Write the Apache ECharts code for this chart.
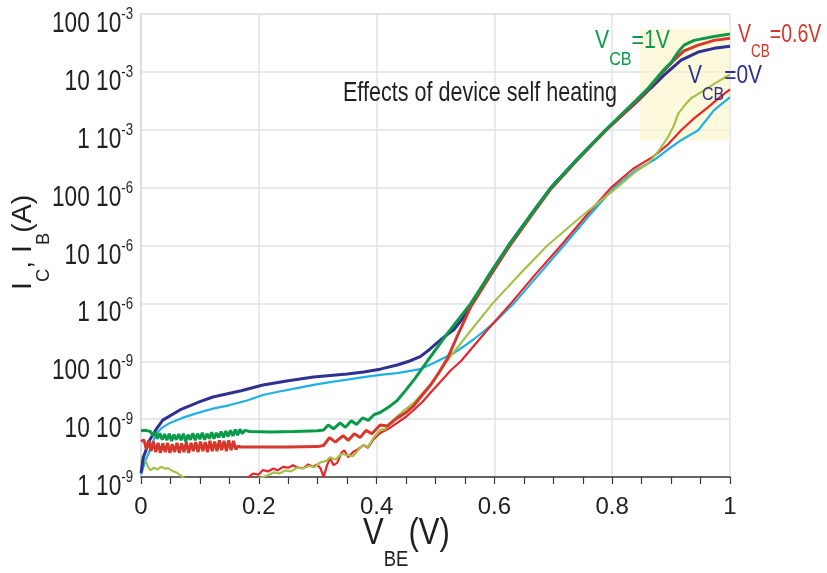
<!DOCTYPE html>
<html>
<head>
<meta charset="utf-8">
<script src="https://cdn.jsdelivr.net/npm/echarts@6/dist/echarts.min.js"></script>
<style>
  html, body { margin: 0; padding: 0; background: #fff; }
  #main { width: 827px; height: 573px; }
</style>
</head>
<body>
<div id="main"></div>
<script>
// x = V_BE (V), y = current (A), log scale
const yTicks = [1e-9, 1e-8, 1e-7, 1e-6, 1e-5, 1e-4, 1e-3, 1e-2, 1e-1];

// I_C, V_CB = 1V (green)
const icVcb1 = [
  [0, 6.3e-9], [0.008, 6.4e-9], [0.016, 6.1e-9], [0.02, 5.2e-9], [0.024, 5.9e-9], [0.028, 4.6e-9],
  [0.032, 5.7e-9], [0.036, 4.4e-9], [0.04, 5.5e-9], [0.044, 4.3e-9], [0.048, 5.6e-9], [0.052, 4.2e-9],
  [0.056, 5.4e-9], [0.06, 4.4e-9], [0.064, 5.5e-9], [0.068, 4.3e-9], [0.072, 5.6e-9], [0.076, 4.1e-9],
  [0.08, 5.4e-9], [0.084, 4.4e-9], [0.088, 5.7e-9], [0.092, 4.3e-9], [0.096, 5.6e-9], [0.1, 4.5e-9],
  [0.104, 5.8e-9], [0.108, 4.4e-9], [0.112, 5.6e-9], [0.116, 4.6e-9], [0.12, 5.9e-9], [0.124, 4.6e-9],
  [0.128, 5.8e-9], [0.132, 4.8e-9], [0.136, 6.1e-9], [0.14, 4.8e-9], [0.144, 6.2e-9], [0.148, 5.0e-9],
  [0.152, 6.4e-9], [0.156, 5.1e-9], [0.16, 6.6e-9], [0.164, 5.3e-9], [0.168, 6.7e-9], [0.172, 5.6e-9],
  [0.176, 6.4e-9], [0.185, 6.1e-9], [0.22, 6.0e-9], [0.26, 6.1e-9], [0.3, 6.3e-9], [0.31, 6.5e-9],
  [0.318, 7.9e-9], [0.327, 6.8e-9], [0.338, 8.6e-9], [0.347, 7.2e-9], [0.357, 9.4e-9], [0.366, 8.1e-9],
  [0.376, 1.05e-8], [0.386, 9.5e-9], [0.396, 1.2e-8], [0.406, 1.3e-8], [0.42, 1.6e-8], [0.435, 2.1e-8],
  [0.45, 3.2e-8], [0.465, 5.0e-8], [0.486, 1e-7], [0.52, 3.0e-7], [0.56, 1e-6], [0.592, 3.2e-6],
  [0.624, 1e-5], [0.66, 3.2e-5], [0.696, 1e-4], [0.742, 3.2e-4], [0.789, 1e-3], [0.84, 3.2e-3],
  [0.861, 5.2e-3], [0.888, 1.1e-2], [0.9, 1.45e-2], [0.912, 2.2e-2], [0.922, 2.9e-2], [0.939, 3.5e-2],
  [0.973, 4.1e-2], [1, 4.5e-2]
];

// I_C, V_CB = 0.6V (red)
const icVcb06 = [
  [0, 4.1e-9], [0.005, 4.4e-9], [0.009, 3.0e-9], [0.013, 4.3e-9], [0.017, 2.8e-9], [0.021, 4.1e-9],
  [0.025, 2.7e-9], [0.029, 3.9e-9], [0.033, 2.6e-9], [0.037, 3.8e-9], [0.041, 2.7e-9], [0.045, 3.9e-9],
  [0.049, 2.6e-9], [0.053, 3.7e-9], [0.057, 2.7e-9], [0.061, 3.9e-9], [0.065, 2.6e-9], [0.069, 3.8e-9],
  [0.073, 2.7e-9], [0.077, 4.0e-9], [0.081, 2.6e-9], [0.085, 3.9e-9], [0.089, 2.8e-9], [0.093, 4.0e-9],
  [0.097, 2.7e-9], [0.101, 4.1e-9], [0.105, 2.8e-9], [0.109, 4.0e-9], [0.113, 2.7e-9], [0.117, 4.2e-9],
  [0.121, 2.8e-9], [0.125, 4.1e-9], [0.129, 2.8e-9], [0.133, 4.3e-9], [0.137, 2.9e-9], [0.141, 4.2e-9],
  [0.145, 2.8e-9], [0.149, 4.3e-9], [0.153, 2.9e-9], [0.157, 4.2e-9], [0.161, 3.0e-9], [0.165, 3.4e-9],
  [0.17, 3.3e-9], [0.2, 3.3e-9], [0.25, 3.3e-9], [0.3, 3.35e-9], [0.31, 3.5e-9], [0.32, 4.8e-9],
  [0.33, 4.0e-9], [0.343, 5.2e-9], [0.352, 4.3e-9], [0.362, 5.6e-9], [0.372, 4.8e-9], [0.382, 6.4e-9],
  [0.392, 5.6e-9], [0.406, 7.9e-9], [0.418, 7.6e-9], [0.435, 1.04e-8], [0.45, 1.3e-8], [0.463, 1.7e-8],
  [0.48, 2.8e-8], [0.491, 3.8e-8], [0.505, 6.2e-8], [0.52, 1.1e-7], [0.54, 3.2e-7], [0.56, 8.8e-7],
  [0.592, 2.9e-6], [0.624, 9.2e-6], [0.66, 3.0e-5], [0.696, 9.5e-5], [0.742, 3.1e-4], [0.789, 9.6e-4],
  [0.84, 3.0e-3], [0.861, 5.0e-3], [0.888, 1.05e-2], [0.905, 1.6e-2], [0.922, 2.3e-2], [0.946, 2.9e-2],
  [0.973, 3.5e-2], [1, 3.8e-2]
];

// I_C, V_CB = 0V (navy)
const icVcb0 = [
  [0, 1.17e-9], [0.004, 2.2e-9], [0.015, 4.4e-9], [0.025, 6.5e-9], [0.037, 9.6e-9], [0.066, 1.44e-8],
  [0.1, 2.0e-8], [0.122, 2.41e-8], [0.17, 3.1e-8], [0.207, 3.88e-8], [0.25, 4.6e-8], [0.293, 5.33e-8],
  [0.35, 6.0e-8], [0.378, 6.5e-8], [0.406, 7.3e-8], [0.435, 8.6e-8], [0.455, 1.0e-7], [0.474, 1.2e-7],
  [0.49, 1.6e-7], [0.503, 2.1e-7], [0.52, 2.9e-7], [0.531, 3.5e-7], [0.545, 5.3e-7], [0.554, 7.2e-7],
  [0.565, 1.1e-6], [0.592, 3.2e-6], [0.624, 1e-5], [0.66, 3.2e-5], [0.696, 1e-4], [0.742, 3.2e-4],
  [0.789, 9.8e-4], [0.84, 2.9e-3], [0.865, 5.2e-3], [0.888, 8.8e-3], [0.917, 1.6e-2], [0.946, 2.2e-2],
  [0.973, 2.55e-2], [1, 2.78e-2]
];

// I_B, V_CB = 1V (olive)
const ibVcb1 = [
  [0, 1.75e-9], [0.003, 2.3e-9], [0.008, 1.9e-9], [0.012, 1.5e-9], [0.016, 1.3e-9], [0.022, 1.45e-9],
  [0.028, 1.35e-9], [0.034, 1.5e-9], [0.04, 1.4e-9], [0.046, 1.42e-9], [0.052, 1.3e-9], [0.06, 1.2e-9],
  [0.068, 1.05e-9], [0.076, 0.9e-9], null,
  [0.195, 0.9e-9], [0.216, 1.08e-9], [0.225, 1.2e-9], [0.235, 1.15e-9], [0.245, 1.3e-9], [0.255, 1.25e-9],
  [0.265, 1.45e-9], [0.275, 1.4e-9], [0.285, 1.55e-9], [0.295, 1.5e-9], [0.305, 1.8e-9], [0.315, 1.9e-9],
  [0.321, 2.2e-9], [0.33, 2.0e-9], [0.34, 2.5e-9], [0.35, 2.4e-9], [0.36, 2.3e-9], [0.37, 3.0e-9],
  [0.378, 3.6e-9], [0.385, 3.3e-9], [0.395, 4.8e-9], [0.406, 6.5e-9], [0.415, 6.8e-9], [0.425, 9.0e-9],
  [0.435, 1.12e-8], [0.45, 1.5e-8], [0.463, 1.9e-8], [0.478, 2.8e-8], [0.491, 3.9e-8], [0.505, 6.0e-8],
  [0.519, 1e-7], [0.558, 3.2e-7], [0.597, 1e-6], [0.643, 3.2e-6], [0.69, 1e-5], [0.748, 3.2e-5],
  [0.808, 1e-4], [0.84, 1.9e-4], [0.861, 2.6e-4], [0.88, 4.5e-4], [0.895, 7.5e-4], [0.905, 1.2e-3],
  [0.912, 1.9e-3], [0.925, 2.8e-3], [0.934, 3.5e-3], [0.956, 4.8e-3], [0.975, 6.4e-3], [1, 9.0e-3]
];

// I_B, V_CB = 0.6V (red)
const ibVcb06 = [
  [0.17, 0.85e-9], [0.18, 0.95e-9], [0.19, 1.15e-9], [0.2, 1.1e-9], [0.207, 1.32e-9], [0.215, 1.25e-9],
  [0.225, 1.4e-9], [0.232, 1.3e-9], [0.241, 1.5e-9], [0.25, 1.45e-9], [0.258, 1.6e-9], [0.266, 1.45e-9],
  [0.276, 1.43e-9], [0.284, 1.65e-9], [0.292, 1.5e-9], [0.299, 1.65e-9], [0.305, 1.4e-9], [0.31, 1.0e-9],
  [0.316, 1.6e-9], [0.321, 2.1e-9], [0.327, 1.6e-9], [0.333, 1.75e-9], [0.34, 2.6e-9], [0.345, 2.9e-9],
  [0.352, 2.2e-9], [0.36, 2.7e-9], [0.368, 3.0e-9], [0.378, 3.6e-9], [0.385, 3.2e-9], [0.395, 4.5e-9],
  [0.406, 5.75e-9], [0.42, 6.8e-9], [0.435, 8.6e-9], [0.45, 1.1e-8], [0.463, 1.44e-8], [0.478, 2.0e-8],
  [0.491, 2.82e-8], [0.51, 4.6e-8], [0.526, 7.0e-8], [0.543, 1e-7], [0.585, 3.2e-7], [0.628, 1e-6],
  [0.67, 3.2e-6], [0.713, 1e-5], [0.755, 3.2e-5], [0.798, 1e-4], [0.835, 2.1e-4], [0.869, 3.4e-4],
  [0.895, 5.6e-4], [0.917, 9.8e-4], [0.94, 1.6e-3], [0.963, 2.46e-3], [0.985, 3.8e-3], [1, 5.0e-3]
];

// I_B, V_CB = 0V (cyan)
const ibVcb0 = [
  [0, 1.1e-9], [0.005, 1.6e-9], [0.01, 2.2e-9], [0.015, 2.9e-9], [0.02, 4.0e-9], [0.027, 5.75e-9],
  [0.035, 7.0e-9], [0.049, 8.6e-9], [0.07, 1.05e-8], [0.095, 1.27e-8], [0.12, 1.5e-8], [0.151, 1.75e-8],
  [0.18, 2.1e-8], [0.207, 2.61e-8], [0.235, 3.0e-8], [0.265, 3.44e-8], [0.293, 3.9e-8], [0.321, 4.37e-8],
  [0.35, 4.8e-8], [0.378, 5.33e-8], [0.406, 5.8e-8], [0.435, 6.25e-8], [0.474, 7.3e-8], [0.497, 9.3e-8],
  [0.515, 1.15e-7], [0.531, 1.39e-7], [0.548, 1.8e-7], [0.565, 2.4e-7], [0.582, 3.3e-7], [0.599, 4.6e-7],
  [0.633, 1e-6], [0.676, 3.2e-6], [0.718, 1e-5], [0.76, 3.2e-5], [0.803, 1e-4], [0.84, 2.0e-4],
  [0.871, 3.0e-4], [0.895, 4.6e-4], [0.917, 6.6e-4], [0.946, 9.8e-4], [0.973, 2.18e-3], [1, 3.66e-3]
];

// shaded "self heating" region: [V from, I top], [V to, I bottom]
const heatBox = [[0.847, 0.055], [1, 6.5e-4]];

const FONT = "'Liberation Sans', Arial, sans-serif";
const TXT = '#231f20';

var chart = echarts.init(document.getElementById('main'), null, { renderer: 'canvas' });

function line(data, color, width) {
  return {
    type: 'line',
    data: data,
    symbol: 'none',
    clip: true,
    z: 2,
    lineStyle: { color: color, width: width },
    animation: false
  };
}

// big text with lowered small part; lh = line height that sets the drop
function subRich(color, big, small, lh) {
  return {
    v: { fontFamily: FONT, fontSize: big, lineHeight: big, verticalAlign: 'top', fill: color },
    s: { fontFamily: FONT, fontSize: small, lineHeight: lh, verticalAlign: 'bottom', fill: color }
  };
}

// y tick labels like "100 10^-3", narrow like the original
function yLabel(params, api) {
  const v = api.value(1);
  const p = api.coord([0, v]);
  const e = Math.round(Math.log10(v));
  const g = Math.floor(e / 3) * 3;
  return {
    type: 'text',
    x: p[0] - 8,
    y: p[1] - 8,
    scaleX: 0.78,
    style: {
      text: '{m|' + Math.round(Math.pow(10, e - g)) + ' 10}{e|' + g + '}',
      align: 'right',
      verticalAlign: 'top',
      rich: {
        m: { fontFamily: FONT, fontSize: 29, lineHeight: 32.5, verticalAlign: 'bottom', fill: TXT },
        e: { fontFamily: FONT, fontSize: 17, lineHeight: 17, verticalAlign: 'top', fill: TXT }
      }
    }
  };
}

var option = {
  backgroundColor: '#fff',
  animation: false,
  grid: { left: 141, right: 97, top: 14, bottom: 96, containLabel: false, outerBoundsMode: 'none' },
  xAxis: {
    type: 'value',
    min: 0,
    max: 1,
    interval: 0.2,
    axisLine: { show: true, lineStyle: { color: '#3a3a3a', width: 1.5 } },
    axisTick: { show: true, length: 7, lineStyle: { color: '#3a3a3a', width: 1.2 } },
    minorTick: { show: true, splitNumber: 4, length: 7, lineStyle: { color: '#3a3a3a', width: 1.2 } },
    splitLine: { show: true, lineStyle: { color: '#dfe2ea', width: 1.5 } },
    axisLabel: { fontFamily: FONT, fontSize: 24, color: TXT, margin: 18 }
  },
  yAxis: {
    type: 'log',
    logBase: 10,
    min: 1e-9,
    max: 1e-1,
    splitNumber: 8,
    axisLine: { show: true, lineStyle: { color: '#d5d8e0', width: 1.5 } },
    axisTick: { show: false },
    splitLine: { show: true, lineStyle: { color: '#dfe2ea', width: 1.5 } },
    axisLabel: { show: false }
  },
  series: [
    {
      type: 'line',
      data: [],
      z: 1,
      symbol: 'none',
      markArea: {
        silent: true,
        itemStyle: { color: 'rgb(252,245,197)', opacity: 0.6 },
        data: [[{ coord: heatBox[0] }, { coord: heatBox[1] }]]
      }
    },
    line(ibVcb0, '#1fb0e6', 2.2),
    line(ibVcb06, '#e8262a', 2.2),
    line(ibVcb1, '#a6c04c', 2.2),
    line(icVcb0, '#2e3192', 3),
    line(icVcb06, '#d6382b', 3),
    line(icVcb1, '#0b9a4a', 3),
    {
      type: 'custom',
      data: yTicks.map(function (v) { return [0, v]; }),
      renderItem: yLabel,
      clip: false,
      silent: true,
      z: 3
    }
  ],
  graphic: [
    {
      type: 'text', x: 480, y: 93, scaleX: 0.77, z: 10,
      style: { text: 'Effects of device self heating', fontFamily: FONT, fontSize: 28, fill: TXT, align: 'center', verticalAlign: 'middle' }
    },
    {
      type: 'text', x: 595, y: 28.7, scaleX: 0.85, z: 10,
      style: { text: '{v|V}{s|CB}{v|=1V}', rich: subRich('#0b9a4a', 25, 19, 40.7) }
    },
    {
      type: 'text', x: 738, y: 21.6, scaleX: 0.75, z: 10,
      style: { text: '{v|V}{s|CB}{v|=0.6V}', rich: subRich('#d6382b', 26, 18, 39.7) }
    },
    {
      type: 'text', x: 688, y: 63.7, scaleX: 0.84, z: 10,
      style: { text: '{v|V}{s|CB}{v|=0V}', rich: subRich('#2e3192', 25, 19, 40.7) }
    },
    {
      type: 'text', x: 363, y: 515.2, scaleX: 0.84, z: 10,
      style: { text: '{v|V}{s|BE}{v|(V)}', rich: subRich(TXT, 37, 22, 55.4) }
    },
    {
      type: 'text', x: 9.4, y: 290, rotation: Math.PI / 2, scaleX: 1.02, z: 10,
      style: { text: '{v|I}{s|C}{v|, I}{s|B}{v|(A)}', rich: subRich(TXT, 28, 18, 43.4) }
    }
  ]
};

chart.setOption(option);
</script>
</body>
</html>
